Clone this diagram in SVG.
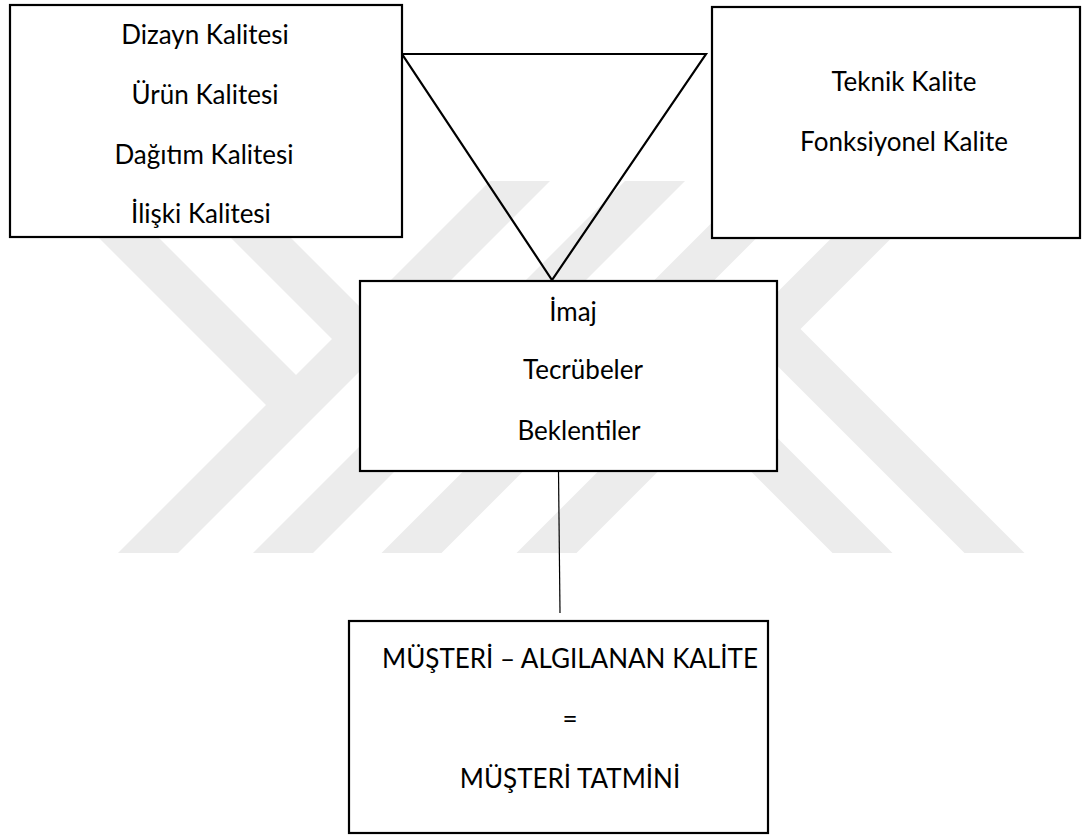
<svg xmlns="http://www.w3.org/2000/svg" xmlns:xlink="http://www.w3.org/1999/xlink" width="1089" height="838" viewBox="0 0 1089 838">
  <defs>
    <style>
      .box { fill: #ffffff; stroke: #000000; stroke-width: 2.2; }
      .tri { fill: none; stroke: #000000; stroke-width: 2.2; stroke-linejoin: miter; }
      .link { fill: none; stroke: #000000; stroke-width: 1.2; }
      .lbl { font-family: Lato, "Liberation Sans", sans-serif; font-size: 26px; fill: #000000; text-anchor: middle; }
      .mark { fill: #ececec; }
    </style>
    <!-- one half of the background mark: two slanted strokes with their arms -->
    <g id="markHalf">
      <polygon points="118,553 178,553 550,181 490,181"/>
      <polygon points="42,181 102,181 326,405 266,405"/>
      <polygon points="253,553 313,553 685,181 625,181"/>
      <polygon points="174,181 234,181 459.5,406.5 399.5,406.5"/>
    </g>
  </defs>

  <rect width="1089" height="838" fill="#ffffff"/>

  <!-- background mark -->
  <g id="background-mark" class="mark">
    <use xlink:href="#markHalf"/>
    <use xlink:href="#markHalf" transform="rotate(180 533.25 367)"/>
  </g>

  <!-- connectors -->
  <g id="connectors">
    <line class="link" x1="558.5" y1="471" x2="560" y2="613"/>
  </g>

  <g id="node-triangle">
    <polygon class="tri" points="402,54 706,54 552,280"/>
  </g>

  <g id="node-product">
    <rect class="box" x="10" y="5" width="392" height="232"/>
    <text class="lbl" x="205" y="44">Dizayn Kalitesi</text>
    <text class="lbl" x="205" y="104">Ürün Kalitesi</text>
    <text class="lbl" x="204" y="164">Dağıtım Kalitesi</text>
    <text class="lbl" x="201" y="223">İlişki Kalitesi</text>
  </g>

  <g id="node-service">
    <rect class="box" x="712" y="7" width="368" height="231"/>
    <text class="lbl" x="904" y="91">Teknik Kalite</text>
    <text class="lbl" x="904" y="151">Fonksiyonel Kalite</text>
  </g>

  <g id="node-image">
    <rect class="box" x="360" y="281" width="417" height="190"/>
    <text class="lbl" x="573" y="321">İmaj</text>
    <text class="lbl" x="583" y="379">Tecrübeler</text>
    <text class="lbl" x="579" y="440">Beklentiler</text>
  </g>

  <g id="node-result">
    <rect class="box" x="349" y="621" width="419" height="212"/>
    <text class="lbl" x="570" y="668">MÜŞTERİ – ALGILANAN KALİTE</text>
    <text class="lbl" x="570" y="728">=</text>
    <text class="lbl" x="570" y="788">MÜŞTERİ TATMİNİ</text>
  </g>
</svg>
